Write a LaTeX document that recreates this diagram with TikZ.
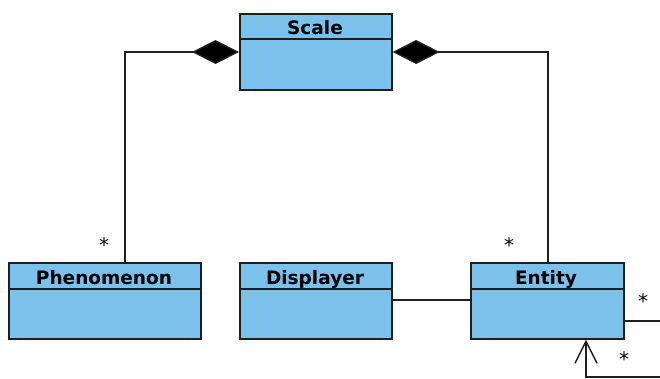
\documentclass[tikz,border=0pt]{standalone}
\usepackage{fontspec}
\setmainfont{DejaVu Sans}
\usetikzlibrary{arrows.meta}
\definecolor{umlblue}{RGB}{122,193,236}
\definecolor{umlline}{RGB}{30,30,30}
\begin{document}
\begin{tikzpicture}[x=1pt,y=-1pt,
  cls/.style={draw=umlline,fill=umlblue,line width=1.6pt,minimum width=#1,minimum height=76pt,anchor=north west,inner sep=0pt},
  ttl/.style={font=\bfseries\fontsize{18.5}{20}\selectfont,anchor=base,inner sep=0pt},
  conn/.style={draw=umlline,line width=1.5pt},
  mult/.style={font=\fontsize{20}{20}\selectfont,inner sep=0pt}]
\useasboundingbox (0,0) rectangle (660,378);
\clip (0,0) rectangle (660,378);
% classes
\node[cls=152pt] (scale) at (239,13) {};
\draw[conn] (239,39) -- (391,39);
\node[ttl] (scaleT) at (315,34.5) {Scale};
\node[cls=192pt] (phen) at (8,262) {};
\draw[conn] (8,289) -- (200,289);
\node[ttl] (phenT) at (104,284.5) {Phenomenon};
\node[cls=152pt] (disp) at (239,262) {};
\draw[conn] (239,289) -- (391,289);
\node[ttl] (dispT) at (315,284.5) {Displayer};
\node[cls=153pt] (ent) at (470,262) {};
\draw[conn] (470,289) -- (623,289);
\node[ttl] (entT) at (546,284.5) {Entity};
% compositions
\coordinate (c1) at (125,52);
\coordinate (c2) at (548,52);
\draw[conn,{Diamond[length=47pt,width=24pt,fill=black]}-] (scale.west |- c1) -- (c1) -- (c1 |- phen.north);
\draw[conn,{Diamond[length=47pt,width=24pt,fill=black]}-] (scale.east |- c2) -- (c2) -- (c2 |- ent.north);
\node[mult] (m1) at (104,245) {*};
\node[mult] (m2) at (509,245) {*};
% displayer - entity
\coordinate (d1) at (391,300);
\draw[conn] (d1) -- (d1 -| ent.west);
% self association
\coordinate (s1) at (623,321);
\coordinate (s2) at (670,321);
\coordinate (s3) at (670,377);
\coordinate (s4) at (586,377);
\draw[conn,-{Straight Barb[length=22pt,width=22pt,line width=1.5pt]}] (s1) -- (s2) -- (s3) -- (s4) -- (s4 |- ent.south);
\node[mult] (m3) at (643,301) {*};
\node[mult] (m4) at (624,359) {*};
\end{tikzpicture}
\end{document}
